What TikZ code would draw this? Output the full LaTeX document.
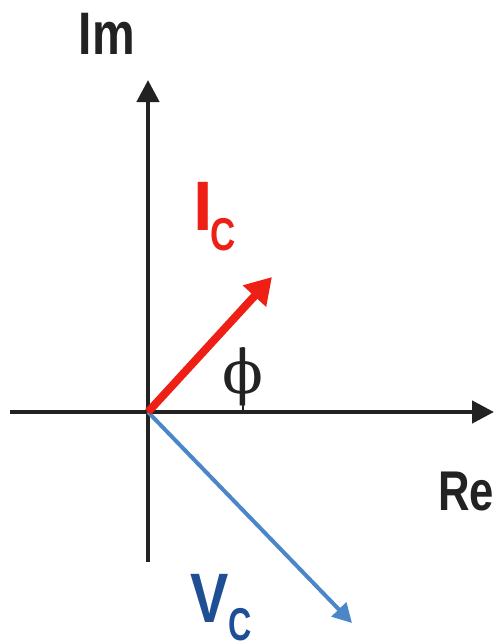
\RequirePackage{fix-cm}
\documentclass[tikz,border=0pt]{standalone}
\usepackage{graphicx}
\usepackage{fontspec}
\setmainfont{Liberation Sans}
\newfontfamily\phifont{DejaVu Serif}
\usetikzlibrary{arrows.meta}
\definecolor{axisblack}{HTML}{222222}
\definecolor{icred}{HTML}{EE2015}
\definecolor{vcline}{HTML}{4A86C8}
\definecolor{vctext}{HTML}{1E4F95}
\begin{document}
\begin{tikzpicture}[x=1pt,y=-1pt,
  axis/.style={line width=4.5pt, draw=axisblack, -{Triangle[length=22pt,width=22pt]}},
  ivec/.style={line width=8pt, draw=icred, -{Triangle[length=26pt,width=30pt]}},
  vvec/.style={line width=4pt, draw=vcline, -{Triangle[length=19pt,width=20pt]}},
  lbl/.style={inner sep=0pt, font=\bfseries}]
\useasboundingbox (0,0) rectangle (499,642);
\coordinate (O) at (148,412);
\coordinate (xl) at (10,412);
\coordinate (xr) at (494,412);
\coordinate (yb) at (148,562);
\coordinate (yt) at (148,80);
\coordinate (ic) at (272,277);
\coordinate (vc) at (352,623);
\coordinate (tickt) at (243,347);
\coordinate (tickb) at (243,412);
\draw[axis] (xl) -- (xr);
\draw[axis] (yb) -- (yt);
\draw[line width=1.8pt, draw=axisblack] (tickt) -- (tickb);
\draw[vvec] (O) -- (vc);
\draw[ivec] (O) -- (ic);
\node[lbl, anchor=base, text=axisblack] (im) at (107,55)
  {\fontsize{60}{60}\selectfont\scalebox{0.8}[1]{Im}};
\node[lbl, anchor=base west, text=axisblack] (re) at (438,510)
  {\fontsize{56}{56}\selectfont\scalebox{0.78}[1]{Re}};
\node[lbl, anchor=base west, text=icred] (iclbl) at (193,230)
  {\fontsize{70}{70}\selectfont I\kern-2pt\raisebox{-20pt}{\fontsize{46}{46}\selectfont\scalebox{0.76}[1]{C}}};
\node[lbl, anchor=base west, text=vctext] (vclbl) at (190,622)
  {\fontsize{70}{70}\selectfont\scalebox{0.82}[1]{V}\raisebox{-18pt}{\fontsize{46}{46}\selectfont\scalebox{0.7}[1]{C}}};
\node[inner sep=0pt, anchor=center, text=axisblack] (phi) at (243,377)
  {\phifont\fontsize{60}{60}\selectfont ϕ};
\end{tikzpicture}
\end{document}
